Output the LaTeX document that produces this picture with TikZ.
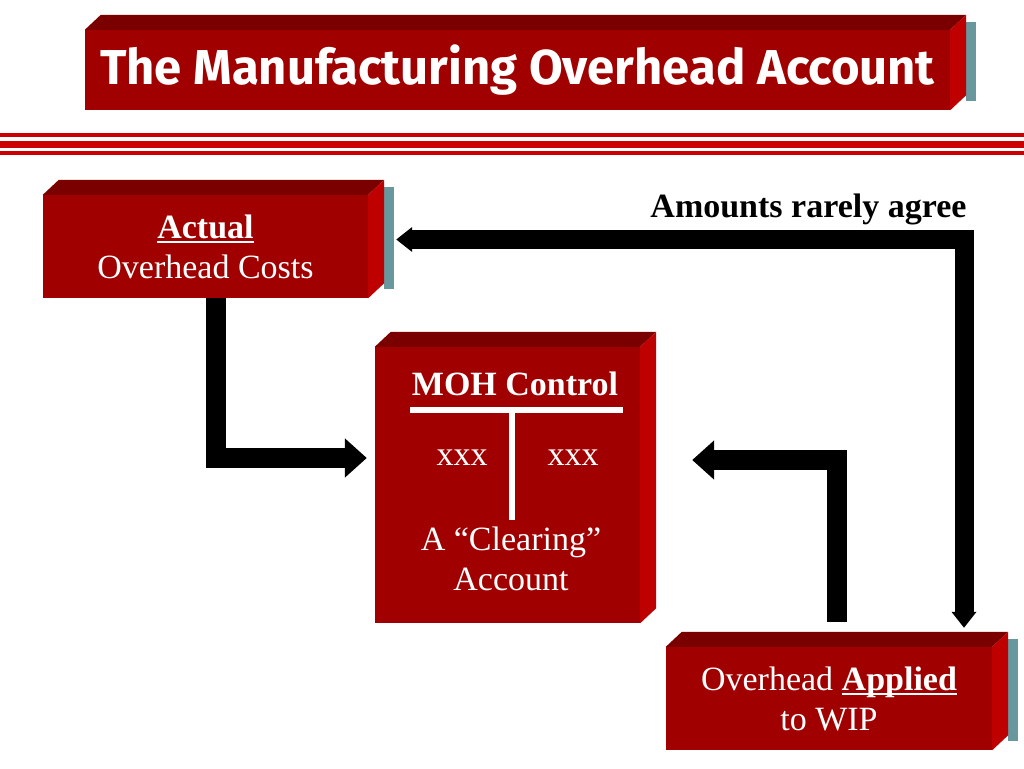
\documentclass[tikz,border=0pt]{standalone}
\usepackage{fontspec}
\setmainfont{Liberation Serif}
\newfontfamily\titlefont{Fira Sans}
\newcommand\ulbar[1]{\leavevmode\setbox0\hbox{#1}\rlap{\rule[-5pt]{\wd0}{2.5pt}}\box0}
\usetikzlibrary{arrows.meta}
\definecolor{frontred}{RGB}{160,0,0}
\definecolor{topred}{RGB}{122,0,0}
\definecolor{sidered}{RGB}{190,0,0}
\definecolor{stripered}{RGB}{204,0,0}
\definecolor{shadowteal}{RGB}{104,152,158}
\begin{document}
\begin{tikzpicture}[x=1pt,y=-1pt,
frontface/.style={fill=frontred,rectangle,inner sep=0pt,text=white,align=center,font=\fontsize{34}{40}\selectfont},
topface/.style={fill=topred},
sideface/.style={fill=sidered},
shadowface/.style={fill=shadowteal},
stripe/.style={fill=stripered},
flow/.style={line width=20pt,-{Triangle[length=22pt,width=38pt]}},
bigflow/.style={line width=19pt,{Triangle[length=16pt,width=24pt]}-{Triangle[length=16pt,width=24pt]}},
tline/.style={white,line width=6pt}]

\useasboundingbox (0,0) rectangle (1024,768);

\draw (517.5,70) node[frontface,minimum width=865pt,minimum height=80pt,font=\titlefont\bfseries\fontsize{49}{55}\selectfont] (title) {The Manufacturing Overhead Account};
\draw (205.5,246.5) node[frontface,minimum width=325pt,minimum height=103pt] (actual) {\textbf{\ulbar{Actual}}\\Overhead Costs};
\draw (507.5,485) node[frontface,minimum width=265pt,minimum height=276pt] (moh) {};
\draw (829,698.5) node[frontface,minimum width=326pt,minimum height=103pt] (applied) {Overhead \textbf{\ulbar{Applied}}\\to WIP};

% 3D faces
\foreach \n in {title,actual,applied}
  \fill[shadowface] ([shift={(16,-8)}]\n.north east) rectangle ([shift={(26,-9)}]\n.south east);
\foreach \n in {title,actual,moh,applied}{
  \fill[topface] (\n.north west) -- ++(16,-15) -- ([shift={(16,-15)}]\n.north east) -- (\n.north east) -- cycle;
  \fill[sideface] (\n.north east) -- ++(16,-15) -- ([shift={(16,-15)}]\n.south east) -- (\n.south east) -- cycle;
}

\fill[stripe] (0,133) rectangle (1024,137);
\fill[stripe] (0,141) rectangle (1024,148);
\fill[stripe] (0,151) rectangle (1024,155);

% T account
\draw (515,395) node[anchor=base,text=white,font=\bfseries\fontsize{34}{40}\selectfont] (mohname) {MOH Control};
\draw[tline] (410,410) -- (623,410);
\draw[tline] (511.5,410) -- (511.5,520);
\draw (462,465) node[anchor=base,text=white,font=\fontsize{34}{40}\selectfont] (debit) {xxx};
\draw (573,465) node[anchor=base,text=white,font=\fontsize{34}{40}\selectfont] (credit) {xxx};
\draw (511,590) node[anchor=base,text=white,align=center,font=\fontsize{34}{40}\selectfont] (clearing) {A ``Clearing''\\Account};

\draw (970,217) node[anchor=base east,font=\bfseries\fontsize{34}{40}\selectfont] (agree) {Amounts rarely agree};

\draw[flow] ([xshift=10pt]actual.south) |- ([xshift=-8pt,yshift=27pt]moh.west);
\draw[flow] ([xshift=8pt,yshift=25pt]applied.north) |- ([xshift=52pt,yshift=25pt]moh.east);
\draw[bigflow] ([xshift=28pt,yshift=7pt]actual.east) -| ([xshift=135pt,yshift=19pt]applied.north);
\end{tikzpicture}
\end{document}
